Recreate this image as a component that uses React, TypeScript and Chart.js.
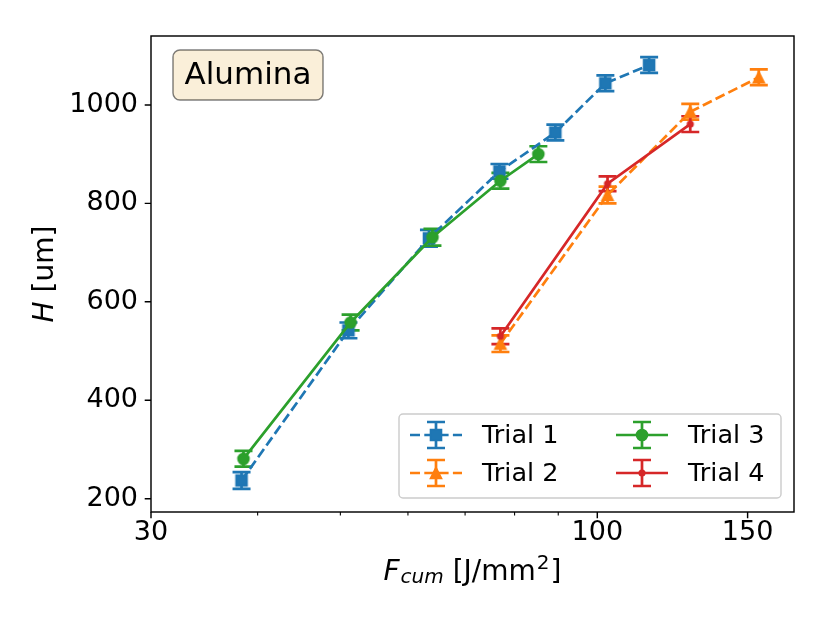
import React, { useEffect, useRef } from "react";
import { Chart, registerables } from "chart.js";

Chart.register(...registerables);

const FONT = "'DejaVu Sans', sans-serif";

// values: x = F_cum [J/mm^2], y = H [um], err = half error bar
const trial1X = [38.3, 51.1, 63.5, 76.8, 89.3, 102.2, 115];
const trial1Y = [237, 542, 729, 865, 944, 1044, 1081];
const trial1Err = [17, 16, 17, 15, 16, 16, 16];

const trial2X = [77, 102.8, 128.5, 154.6];
const trial2Y = [515, 817, 986, 1056];
const trial2Err = [17, 17, 16, 16];

const trial3X = [38.5, 51.4, 64.1, 77, 85.3];
const trial3Y = [281, 558, 731, 846, 900];
const trial3Err = [16, 16, 17, 16, 16];

const trial4X = [77, 102.8, 128.5];
const trial4Y = [530, 840, 961];
const trial4Err = [16, 15, 16];

const labels = ["Trial 1", "Trial 2", "Trial 3", "Trial 4"];
const colors = ["#1f77b4", "#ff7f0e", "#2ca02c", "#d62728"];
const markers = ["s", "^", "o", "."];
const dashed = [true, true, false, false];

const xMajorTicks = [30, 100, 150];
const xMinorTicks = [40, 50, 60, 70, 80, 90];
const yTicks = [200, 400, 600, 800, 1000];

const series = [
  { xs: trial1X, ys: trial1Y, errs: trial1Err },
  { xs: trial2X, ys: trial2Y, errs: trial2Err },
  { xs: trial3X, ys: trial3Y, errs: trial3Err },
  { xs: trial4X, ys: trial4Y, errs: trial4Err },
].map((s, i) => ({ ...s, label: labels[i], color: colors[i], marker: markers[i], dashed: dashed[i] }));

const LW = 2.7; // 1.5pt at 130 dpi
const DASH = [10, 4.3];
const CAP = 9;

function drawMarker(ctx: CanvasRenderingContext2D, kind: string, x: number, y: number, color: string) {
  const h = 5.4;
  ctx.save();
  ctx.fillStyle = color;
  ctx.strokeStyle = color;
  ctx.lineWidth = 1.8;
  ctx.setLineDash([]);
  ctx.beginPath();
  if (kind === "s") {
    ctx.rect(x - h, y - h, 2 * h, 2 * h);
  } else if (kind === "^") {
    ctx.moveTo(x, y - h);
    ctx.lineTo(x + h, y + h);
    ctx.lineTo(x - h, y + h);
    ctx.closePath();
  } else if (kind === "o") {
    ctx.arc(x, y, h, 0, Math.PI * 2);
  } else {
    ctx.arc(x, y, h / 2, 0, Math.PI * 2);
  }
  ctx.fill();
  ctx.stroke();
  ctx.restore();
}

function markerImage(kind: string, color: string) {
  const c = document.createElement("canvas");
  c.width = 20;
  c.height = 20;
  const ctx = c.getContext("2d");
  if (ctx) drawMarker(ctx, kind, 10, 10, color);
  return c;
}

function drawErrorBar(ctx: CanvasRenderingContext2D, px: number, top: number, bot: number) {
  ctx.beginPath();
  ctx.moveTo(px, top);
  ctx.lineTo(px, bot);
  ctx.moveTo(px - CAP, top);
  ctx.lineTo(px + CAP, top);
  ctx.moveTo(px - CAP, bot);
  ctx.lineTo(px + CAP, bot);
  ctx.stroke();
}

// error bars sit below every data line, like matplotlib's zorder
const errorBarPlugin = {
  id: "errorBars",
  beforeDatasetsDraw(chart: Chart) {
    const { ctx } = chart;
    const xs = chart.scales.x;
    const ys = chart.scales.y;
    series.forEach((s) => {
      ctx.save();
      ctx.strokeStyle = s.color;
      ctx.lineWidth = LW;
      ctx.setLineDash([]);
      s.xs.forEach((xv, i) => {
        const px = xs.getPixelForValue(xv);
        drawErrorBar(ctx, px, ys.getPixelForValue(s.ys[i] + s.errs[i]), ys.getPixelForValue(s.ys[i] - s.errs[i]));
      });
      ctx.restore();
    });
  },
};

const framePlugin = {
  id: "frame",
  afterDatasetsDraw(chart: Chart) {
    const { ctx, chartArea: a } = chart;
    const xs = chart.scales.x;
    const ys = chart.scales.y;
    ctx.save();
    ctx.strokeStyle = "#000";
    ctx.lineWidth = 1.44;
    ctx.setLineDash([]);
    ctx.strokeRect(a.left, a.top, a.right - a.left, a.bottom - a.top);
    ctx.beginPath();
    xMajorTicks.forEach((v) => {
      const p = xs.getPixelForValue(v);
      ctx.moveTo(p, a.bottom);
      ctx.lineTo(p, a.bottom + 6.3);
    });
    yTicks.forEach((v) => {
      const p = ys.getPixelForValue(v);
      ctx.moveTo(a.left, p);
      ctx.lineTo(a.left - 6.3, p);
    });
    ctx.stroke();
    ctx.lineWidth = 1.08;
    ctx.beginPath();
    xMinorTicks.forEach((v) => {
      const p = xs.getPixelForValue(v);
      ctx.moveTo(p, a.bottom);
      ctx.lineTo(p, a.bottom + 3.6);
    });
    ctx.stroke();
    ctx.restore();
  },
};

const annotationPlugin = {
  id: "annotations",
  afterDraw(chart: Chart) {
    const { ctx, chartArea: a } = chart;
    ctx.save();
    ctx.fillStyle = "#000";
    ctx.textAlign = "left";
    ctx.textBaseline = "alphabetic";

    // x label: $F_{cum}$ [J/mm$^2$]
    const big = "28px " + FONT;
    const bigIt = "italic 28px " + FONT;
    const small = "20px " + FONT;
    const smallIt = "italic 20px " + FONT;
    const xParts = [
      { t: "F", f: bigIt, dy: 0, gap: 1 },
      { t: "cum", f: smallIt, dy: 3, gap: 0 },
      { t: " [J/mm", f: big, dy: 0, gap: 1 },
      { t: "2", f: small, dy: -11, gap: 1 },
      { t: "]", f: big, dy: 0, gap: 0 },
    ];
    let total = 0;
    xParts.forEach((p) => {
      ctx.font = p.f;
      total += ctx.measureText(p.t).width + p.gap;
    });
    let cx = (a.left + a.right) / 2 - total / 2;
    xParts.forEach((p) => {
      ctx.font = p.f;
      ctx.fillText(p.t, cx, 580 + p.dy);
      cx += ctx.measureText(p.t).width + p.gap;
    });

    // y label: $H$ [um]
    const yParts = [
      { t: "H", f: bigIt },
      { t: " [um]", f: big },
    ];
    total = 0;
    yParts.forEach((p) => {
      ctx.font = p.f;
      total += ctx.measureText(p.t).width;
    });
    ctx.save();
    ctx.translate(53, (a.top + a.bottom) / 2);
    ctx.rotate(-Math.PI / 2);
    let cy = -total / 2;
    yParts.forEach((p) => {
      ctx.font = p.f;
      ctx.fillText(p.t, cy, 0);
      cy += ctx.measureText(p.t).width;
    });
    ctx.restore();

    // "Alumina" box
    ctx.beginPath();
    ctx.roundRect(173, 50, 150, 50, 7);
    ctx.fillStyle = "#faefd9";
    ctx.fill();
    ctx.strokeStyle = "rgba(0,0,0,0.5)";
    ctx.lineWidth = 1.44;
    ctx.stroke();
    ctx.fillStyle = "#000";
    ctx.font = "31px " + FONT;
    ctx.textAlign = "center";
    ctx.fillText("Alumina", 248, 83.5);

    // legend, two columns
    ctx.beginPath();
    ctx.roundRect(399, 414, 382, 84, 4);
    ctx.fillStyle = "rgba(255,255,255,0.8)";
    ctx.fill();
    ctx.strokeStyle = "#cccccc";
    ctx.lineWidth = 1.44;
    ctx.stroke();
    const handleCols = [436, 642];
    const textCols = [482, 688];
    const rows = [435, 473];
    series.forEach((s, i) => {
      const col = Math.floor(i / 2);
      const row = i % 2;
      const hx = handleCols[col];
      const hy = rows[row];
      ctx.strokeStyle = s.color;
      ctx.lineWidth = LW;
      ctx.setLineDash(s.dashed ? DASH : []);
      ctx.beginPath();
      ctx.moveTo(hx - 26, hy);
      ctx.lineTo(hx + 26, hy);
      ctx.stroke();
      ctx.setLineDash([]);
      drawErrorBar(ctx, hx, hy - 13, hy + 13);
      drawMarker(ctx, s.marker, hx, hy, s.color);
      ctx.fillStyle = "#000";
      ctx.font = "25.5px " + FONT;
      ctx.textAlign = "left";
      ctx.textBaseline = "middle";
      ctx.fillText(s.label, textCols[col], hy + 1);
    });
    ctx.restore();
  },
};

const App: React.FC = () => {
  const canvasRef = useRef<HTMLCanvasElement>(null);
  const chartRef = useRef<Chart | null>(null);

  useEffect(() => {
    if (!canvasRef.current) return;
    const ctx = canvasRef.current.getContext("2d");
    if (!ctx) return;
    if (chartRef.current) chartRef.current.destroy();

    const datasets = series.map((s, i) => ({
      label: s.label,
      data: s.xs.map((x, j) => ({ x, y: s.ys[j] })),
      borderColor: s.color,
      backgroundColor: s.color,
      borderWidth: LW,
      borderDash: s.dashed ? DASH : [],
      pointStyle: markerImage(s.marker, s.color),
      pointRadius: 5,
      pointHoverRadius: 5,
      showLine: true,
      fill: false,
      tension: 0,
      order: series.length - i,
    }));

    chartRef.current = new Chart(ctx, {
      type: "scatter",
      data: { datasets },
      options: {
        responsive: false,
        animation: false,
        layout: { padding: { top: 36, right: 36, left: 0, bottom: 0 } },
        plugins: { legend: { display: false }, tooltip: { enabled: false } },
        scales: {
          x: {
            type: "logarithmic",
            min: 30,
            max: 170,
            afterBuildTicks: (scale: any) => {
              scale.ticks = [...xMajorTicks, ...xMinorTicks].sort((p, q) => p - q).map((v) => ({ value: v }));
            },
            afterFit: (scale: any) => {
              scale.height = 111;
            },
            grid: { display: false, drawTicks: false },
            border: { display: false },
            ticks: {
              autoSkip: false,
              maxRotation: 0,
              padding: 5,
              color: "#000",
              font: { family: FONT, size: 27 },
              callback: (v: any) => (xMajorTicks.includes(Number(v)) ? String(v) : ""),
            },
          },
          y: {
            type: "linear",
            min: 173,
            max: 1140,
            afterBuildTicks: (scale: any) => {
              scale.ticks = yTicks.map((v) => ({ value: v }));
            },
            afterFit: (scale: any) => {
              scale.width = 151;
            },
            grid: { display: false, drawTicks: false },
            border: { display: false },
            ticks: {
              padding: 13,
              color: "#000",
              font: { family: FONT, size: 27 },
              callback: (v: any) => String(v),
            },
          },
        },
      },
      plugins: [errorBarPlugin, framePlugin, annotationPlugin],
    });

    return () => {
      if (chartRef.current) {
        chartRef.current.destroy();
        chartRef.current = null;
      }
    };
  }, []);

  return (
    <div style={{ position: "fixed", left: 0, top: 0, width: 830, height: 623, background: "#fff" }}>
      <canvas ref={canvasRef} width={830} height={623} />
    </div>
  );
};

export default App;
